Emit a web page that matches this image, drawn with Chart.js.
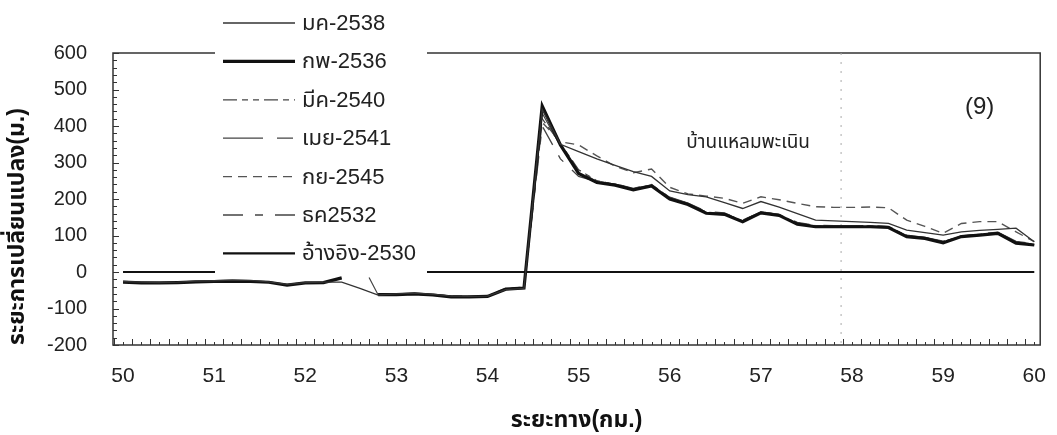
<!DOCTYPE html>
<html>
<head>
<meta charset="utf-8">
<script src="https://cdn.jsdelivr.net/npm/chart.js"></script>
<style>
  html, body { margin: 0; padding: 0; background: #fff; }
  #wrap { width: 1057px; height: 435px; }
</style>
</head>
<body>
<div id="wrap"><canvas id="shoreChart"></canvas></div>
<script>
// distance along the coast (km) and shoreline change (m) for each survey
const distanceKm = [50.0, 50.2, 50.4, 50.6, 50.8, 51.0, 51.2, 51.4, 51.6, 51.8, 52.0, 52.2, 52.4, 52.6, 52.7,
  52.8, 53.0, 53.2, 53.4, 53.6, 53.8, 54.0, 54.2, 54.4, 54.6, 54.8, 55.0, 55.2, 55.4, 55.6, 55.8,
  56.0, 56.2, 56.4, 56.6, 56.8, 57.0, 57.2, 57.4, 57.6, 57.8, 58.0, 58.2, 58.4, 58.6, 58.8,
  59.0, 59.2, 59.4, 59.6, 59.8, 60.0];

const jan2538 = [-26, -28, -29, -28, -25, -24, -22, -23, -27, -34, -29, -28, -28, -45, null,
  -63, -60, -58, -61, -66, -67, -66, -48, -45, 445, 350, 330, 310, 292, 275, 262,
  222, 212, 206, 190, 174, 193, 178, 160, 142, 140, 138, 136, 133, 115, 108,
  101, 110, 114, 117, 120, 83];
const feb2536 = [-28, -30, -30, -29, -27, -26, -25, -26, -28, -36, -30, -29, -16, null, null,
  -62, -62, -60, -63, -68, -68, -67, -47, -44, 455, 348, 270, 245, 238, 225, 236,
  200, 185, 161, 158, 138, 162, 155, 131, 124, 124, 124, 124, 122, 97, 92,
  80, 97, 101, 106, 79, 74];
const mar2540 = [null, null, null, null, null, null, null, null, null, null, null, null, null, null, null,
  -61, -63, -61, -64, -67, -69, -68, -46, -43, 420, 352, 280, 250, 240, 228, 238,
  204, 188, 164, 160, 140, 164, 157, 134, 126, 126, 126, 126, 124, 100, 94,
  83, 98, 103, 108, 82, 76];
const apr2541 = [null, null, null, null, null, null, null, null, null, null, null, null, null, null, -15,
  -63, -61, -59, -62, -66, -68, -66, -46, -44, 435, 345, 276, 248, 241, 229, 239,
  205, 189, 166, 162, 142, 165, 158, 136, 128, 127, 127, 127, 125, 101, 95,
  85, 99, 104, 109, 84, 77];
const sep2545 = [null, null, null, null, null, null, null, null, null, null, null, null, null, null, null,
  -60, -61, -59, -62, -66, -67, -66, -45, -42, 410, 357, 348, 318, 290, 272, 282,
  232, 214, 208, 202, 188, 206, 198, 188, 179, 177, 177, 178, 176, 142, 125,
  106, 133, 138, 138, 110, 83];
const dec2532 = [null, null, null, null, null, null, null, null, null, null, null, null, null, null, null,
  -62, -61, -60, -63, -67, -68, -67, -47, -44, 400, 310, 262, 248, 242, 229, 240,
  203, 188, 164, 160, 141, 165, 158, 134, 127, 126, 126, 126, 124, 99, 94,
  82, 98, 102, 107, 80, 75];
const ref2530 = [0, 0, 0, 0, 0, 0, 0, 0, 0, 0, 0, 0, 0, 0, 0,
  0, 0, 0, 0, 0, 0, 0, 0, 0, 0, 0, 0, 0, 0, 0, 0,
  0, 0, 0, 0, 0, 0, 0, 0, 0, 0, 0, 0, 0, 0, 0,
  0, 0, 0, 0, 0, 0];

const seriesNames = ['มค-2538', 'กพ-2536', 'มีค-2540', 'เมย-2541', 'กย-2545', 'ธค2532', 'อ้างอิง-2530'];
const xTickKm = [50, 51, 52, 53, 54, 55, 56, 57, 58, 59, 60];
const markerKm = 57.88;
const placeName = 'บ้านแหลมพะเนิน';
const panelLabel = '(9)';

const FONT = "'Liberation Sans', Arial, 'Noto Sans Thai', 'Noto Sans', sans-serif";

function pts(values) {
  return values.map((v, i) => ({ x: distanceKm[i], y: v }));
}

// line styles per series: width, dash, colour
const styles = [
  { w: 1.3, dash: [], color: '#333' },
  { w: 3.2, dash: [], color: '#111' },
  { w: 1.3, dash: [14, 5, 6, 5, 6, 5], color: '#444' },
  { w: 1.2, dash: [40, 14, 16, 14], color: '#444' },
  { w: 1.4, dash: [9, 6], color: '#555' },
  { w: 1.3, dash: [20, 12, 8, 12], color: '#444' },
  { w: 2.2, dash: [], color: '#111' }
];
const allSeries = [jan2538, feb2536, mar2540, apr2541, sep2545, dec2532, ref2530];

const datasets = allSeries.map((vals, i) => ({
  label: seriesNames[i],
  data: pts(vals),
  borderColor: styles[i].color,
  borderWidth: styles[i].w,
  borderDash: styles[i].dash,
  pointRadius: 0,
  tension: 0,
  spanGaps: i !== 1
}));

const framePlugin = {
  id: 'frame',
  beforeDatasetsDraw(chart) {
    const { ctx, chartArea: a, scales } = chart;
    ctx.save();
    ctx.strokeStyle = '#333';
    ctx.lineWidth = 1.5;
    ctx.strokeRect(a.left, a.top, a.right - a.left, a.bottom - a.top);
    ctx.lineWidth = 1;
    ctx.beginPath();
    for (let v = -200; v <= 600; v += 20) {
      const y = Math.round(scales.y.getPixelForValue(v)) + 0.5;
      const len = v % 100 === 0 ? 6 : 4;
      ctx.moveTo(a.left, y); ctx.lineTo(a.left + len, y);
    }
    for (let k = 0; k <= 102; k++) {
      const km = 49.9 + k * 0.1;
      if (km > scales.x.max) break;
      const x = Math.round(scales.x.getPixelForValue(km)) + 0.5;
      const len = k % 2 === 0 ? 6 : 3;
      ctx.moveTo(x, a.bottom); ctx.lineTo(x, a.bottom - len);
    }
    ctx.stroke();
    // dotted marker
    const mx = scales.x.getPixelForValue(markerKm);
    ctx.strokeStyle = '#aaa';
    ctx.setLineDash([2, 7]);
    ctx.beginPath();
    ctx.moveTo(mx, a.top); ctx.lineTo(mx, a.bottom);
    ctx.stroke();
    ctx.restore();
  },
  afterDraw(chart) {
    const { ctx, scales } = chart;
    ctx.save();
    ctx.fillStyle = '#222';
    ctx.textAlign = 'center';
    ctx.textBaseline = 'middle';
    ctx.font = '24px ' + FONT;
    ctx.fillText(panelLabel, scales.x.getPixelForValue(59.4), scales.y.getPixelForValue(452));
    ctx.font = '19px ' + FONT;
    ctx.fillText(placeName, scales.x.getPixelForValue(56.86), scales.y.getPixelForValue(353));

    // legend box sits over the plot
    ctx.fillStyle = '#fff';
    ctx.fillRect(215, 0, 212, 276);
    chart.data.datasets.forEach((ds, i) => {
      const y = 23 + i * 38.4;
      ctx.strokeStyle = ds.borderColor;
      ctx.lineWidth = ds.borderWidth;
      ctx.setLineDash(ds.borderDash);
      ctx.beginPath();
      ctx.moveTo(223, y); ctx.lineTo(295, y);
      ctx.stroke();
      ctx.setLineDash([]);
      ctx.fillStyle = '#222';
      ctx.textAlign = 'left';
      ctx.font = '22px ' + FONT;
      ctx.fillText(ds.label, 302, y + 1);
    });
    ctx.restore();
  }
};

new Chart(document.getElementById('shoreChart'), {
  type: 'line',
  data: { datasets: datasets },
  options: {
    responsive: true,
    maintainAspectRatio: false,
    animation: false,
    devicePixelRatio: 1,
    layout: { padding: { left: 0, right: 7, top: 53, bottom: 0 } },
    plugins: { legend: { display: false }, tooltip: { enabled: false } },
    scales: {
      x: {
        type: 'linear',
        min: 49.89,
        max: 60.065,
        afterBuildTicks: s => { s.ticks = xTickKm.map(v => ({ value: v })); },
        afterFit: s => { s.height = 90; },
        grid: { display: false },
        border: { display: false },
        ticks: { color: '#222', font: { family: FONT, size: 21 }, padding: 11, maxRotation: 0, autoSkip: false },
        title: {
          display: true, text: 'ระยะทาง(กม.)', color: '#111',
          font: { family: FONT, size: 23, weight: 'bold' }, padding: { top: 0, bottom: 1 }
        }
      },
      y: {
        min: -200,
        max: 600,
        afterFit: s => { s.width = 113; },
        grid: { display: false },
        border: { display: false },
        ticks: { stepSize: 100, color: '#222', font: { family: FONT, size: 20 }, padding: 18 },
        title: {
          display: true, text: 'ระยะการเปลี่ยนแปลง(ม.)', color: '#111', align: 'start',
          font: { family: FONT, size: 23, weight: 'bold' }, padding: { top: 4, bottom: 8 }
        }
      }
    }
  },
  plugins: [framePlugin]
});
</script>
</body>
</html>
